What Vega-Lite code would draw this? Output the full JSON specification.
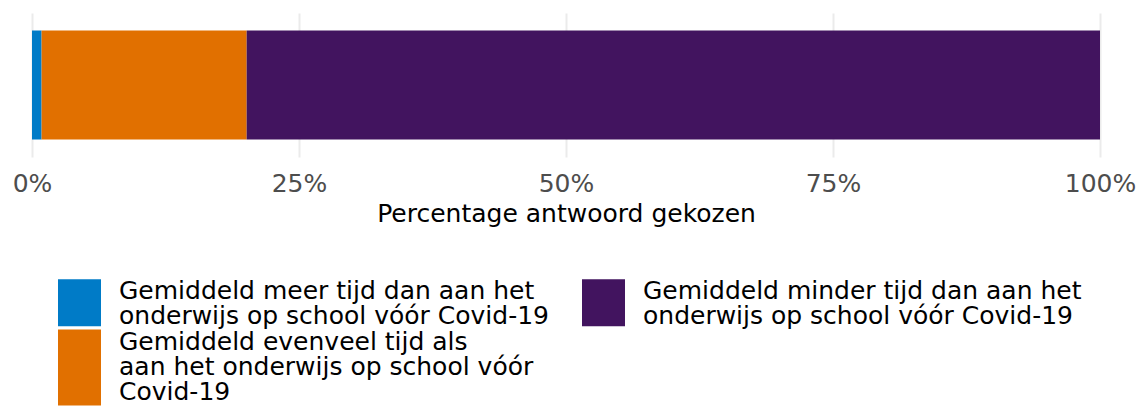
{
  "$schema": "https://vega.github.io/schema/vega-lite/v6.json",
  "autosize": {"type": "none"},
  "padding": {"left": 32, "top": 13, "right": 46, "bottom": 250},
  "width": 1068,
  "height": 144,
  "config": {
    "view": {"stroke": null},
    "font": "DejaVu Sans"
  },
  "data": {
    "values": [
      {"vraag": "q", "antwoord": "Gemiddeld meer tijd dan aan het onderwijs op school vóór Covid-19", "pct": 0.009, "volgorde": 1},
      {"vraag": "q", "antwoord": "Gemiddeld evenveel tijd als aan het onderwijs op school vóór Covid-19", "pct": 0.192, "volgorde": 2},
      {"vraag": "q", "antwoord": "Gemiddeld minder tijd dan aan het onderwijs op school vóór Covid-19", "pct": 0.799, "volgorde": 3}
    ]
  },
  "mark": {"type": "bar"},
  "encoding": {
    "y": {"field": "vraag", "type": "nominal", "axis": null, "scale": {"paddingInner": 0, "paddingOuter": 0.16}},
    "x": {
      "field": "pct", "type": "quantitative", "stack": "zero",
      "scale": {"domain": [0, 1], "nice": false},
      "axis": {
        "title": "Percentage antwoord gekozen",
        "values": [0, 0.25, 0.5, 0.75, 1],
        "format": ".0%",
        "grid": true, "gridColor": "#ebebeb", "gridWidth": 2,
        "domain": false, "ticks": false,
        "labelFontSize": 25, "labelColor": "#4d4d4d", "labelPadding": 14, "labelFlush": false,
        "titleFontSize": 25, "titleColor": "#000000", "titleFontWeight": "normal", "titlePadding": 5
      }
    },
    "order": {"field": "volgorde", "type": "quantitative"},
    "color": {
      "field": "antwoord", "type": "nominal",
      "scale": {
        "domain": [
          "Gemiddeld meer tijd dan aan het onderwijs op school vóór Covid-19",
          "Gemiddeld minder tijd dan aan het onderwijs op school vóór Covid-19",
          "Gemiddeld evenveel tijd als aan het onderwijs op school vóór Covid-19"
        ],
        "range": ["#007BC7", "#42145F", "#E17000"]
      },
      "legend": {
        "title": null,
        "orient": "none",
        "legendX": 26,
        "legendY": 268,
        "direction": "horizontal",
        "columns": 2,
        "columnPadding": 33,
        "rowPadding": 0,
        "symbolSize": 1849,
        "symbolStrokeWidth": 0,
        "labelFontSize": 25,
        "labelColor": "#000000",
        "labelOffset": 18,
        "labelLimit": 700,
        "labelExpr": "indexof(datum.label, 'meer') > 0 ? ['Gemiddeld meer tijd dan aan het', 'onderwijs op school vóór Covid-19'] : indexof(datum.label, 'minder') > 0 ? ['Gemiddeld minder tijd dan aan het', 'onderwijs op school vóór Covid-19'] : ['Gemiddeld evenveel tijd als', 'aan het onderwijs op school vóór', 'Covid-19']",
        "encode": {
          "symbols": {
            "update": {
              "shape": {"signal": "indexof(datum.value, 'evenveel') > 0 ? 'M-1,-1.77H1V1.77H-1Z' : 'M-1,-1.09H1V1.09H-1Z'"}
            }
          },
          "labels": {
            "update": {
              "lineHeight": {"value": 25},
              "dy": {"signal": "indexof(datum.value, 'evenveel') > 0 ? -26 : -12"}
            }
          }
        }
      }
    }
  }
}
